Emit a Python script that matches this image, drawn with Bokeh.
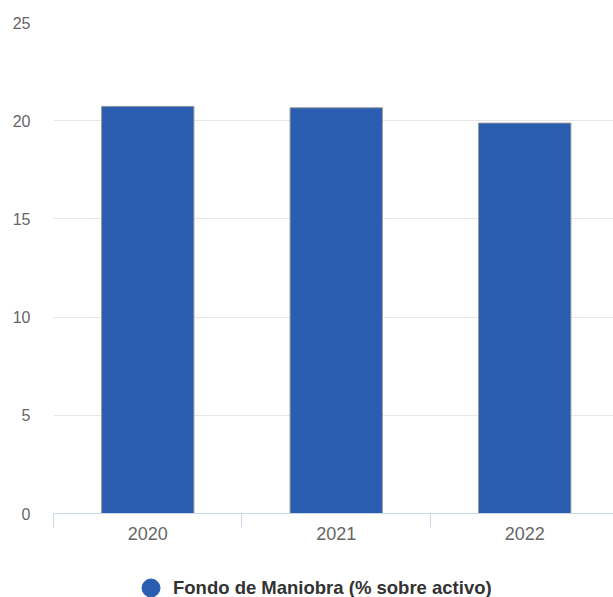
from bokeh.plotting import figure
from bokeh.layouts import column
from bokeh.models import Range1d, FixedTicker, Legend, LegendItem, ColumnDataSource
from bokeh.embed import file_html
from bokeh.resources import INLINE

years = ["2020", "2021", "2022"]
values = [20.73, 20.66, 19.88]
series_name = "Fondo de Maniobra (% sobre activo)"
y_ticks = [0, 5, 10, 15, 20, 25]

BAR_COLOR = "#2a5db0"
FONT = "Liberation Sans"

xs = [i + 0.5 for i in range(len(years))]
src = ColumnDataSource(dict(x=xs, top=values, year=years))

fig = figure(width=613, height=552, output_backend="svg", toolbar_location=None,
             x_range=Range1d(0, 2.971), y_range=Range1d(0, 25),
             min_border_left=53, min_border_right=0, min_border_top=22, min_border_bottom=39)
fig.outline_line_color = None
fig.background_fill_color = "white"
fig.border_fill_color = "white"

bars = fig.vbar(x="x", top="top", width=0.49, source=src, fill_color=BAR_COLOR,
                line_color="#9a9a9a", line_width=1)

# x axis
fig.xaxis.ticker = FixedTicker(ticks=xs, minor_ticks=list(range(len(years) + 1)))
fig.xaxis.major_label_overrides = {x: y for x, y in zip(xs, years)}
fig.xaxis.axis_line_color = "#ccd6eb"
fig.xaxis.major_tick_out = 0
fig.xaxis.major_tick_in = 0
fig.xaxis.minor_tick_out = 14
fig.xaxis.minor_tick_in = 0
fig.xaxis.minor_tick_line_color = "#ccd6eb"
fig.xaxis.major_label_text_font = FONT
fig.xaxis.major_label_text_font_size = "18px"
fig.xaxis.major_label_text_color = "#666666"
fig.xaxis.major_label_standoff = -1
fig.xgrid.grid_line_color = None

# y axis
fig.yaxis.ticker = FixedTicker(ticks=y_ticks)
fig.yaxis.axis_line_color = None
fig.yaxis.major_tick_out = 0
fig.yaxis.major_tick_in = 0
fig.yaxis.minor_tick_line_color = None
fig.yaxis.major_label_text_font = FONT
fig.yaxis.major_label_text_font_size = "16px"
fig.yaxis.major_label_text_color = "#666666"
fig.yaxis.major_label_standoff = 23
fig.ygrid.grid_line_color = "#e6e6e6"
fig.ygrid.grid_line_width = 1

# legend strip (its dot renderer's points fall outside this strip's visible range)
leg_fig = figure(width=613, height=45, output_backend="svg", toolbar_location=None,
                 x_range=Range1d(0, 1), y_range=Range1d(-1, 0),
                 x_axis_location=None, y_axis_location=None,
                 min_border=0, min_border_left=0, min_border_right=0,
                 min_border_top=0, min_border_bottom=0)
leg_fig.outline_line_color = None
leg_fig.xgrid.grid_line_color = None
leg_fig.ygrid.grid_line_color = None
leg_fig.background_fill_color = "white"
leg_fig.border_fill_color = "white"
dot = leg_fig.scatter(x="x", y="top", source=src,
                      marker="circle", size=18, fill_color=BAR_COLOR, line_color=BAR_COLOR)

legend = Legend(items=[LegendItem(label=series_name, renderers=[dot])],
                orientation="horizontal", location=(75, -13),
                label_text_font=FONT, label_text_font_size="18.5px",
                label_text_font_style="bold", label_text_color="#333333",
                glyph_width=45, glyph_height=45, label_standoff=0,
                border_line_color=None, background_fill_alpha=0,
                padding=0, margin=0, spacing=0)
leg_fig.add_layout(legend, "center")

p = column(fig, leg_fig, spacing=0)
open("out.html", "w").write(file_html(p, INLINE))
